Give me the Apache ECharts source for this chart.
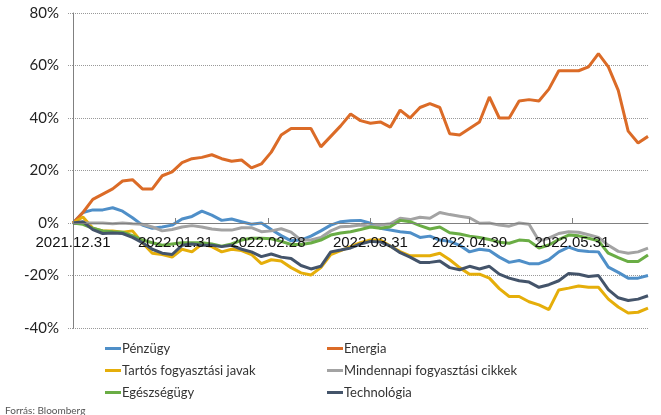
<!DOCTYPE html>
<html>
<head>
<meta charset="utf-8">
<script src="https://cdn.jsdelivr.net/npm/echarts@6/dist/echarts.min.js"></script>
<style>
  html, body { margin: 0; padding: 0; background: #fff; }
  #chart { width: 661px; height: 415px; }
</style>
</head>
<body>
<div id="chart"></div>
<script>
// dátumok (3 naponta leolvasva)
const dates = [
  '2021-12-31', '2022-01-03', '2022-01-06', '2022-01-09', '2022-01-12', '2022-01-15', '2022-01-18',
  '2022-01-21', '2022-01-24', '2022-01-27', '2022-01-30', '2022-02-02', '2022-02-05', '2022-02-08',
  '2022-02-11', '2022-02-14', '2022-02-17', '2022-02-20', '2022-02-23', '2022-02-26', '2022-03-01',
  '2022-03-04', '2022-03-07', '2022-03-10', '2022-03-13', '2022-03-16', '2022-03-19', '2022-03-22',
  '2022-03-25', '2022-03-28', '2022-03-31', '2022-04-03', '2022-04-06', '2022-04-09', '2022-04-12',
  '2022-04-15', '2022-04-18', '2022-04-21', '2022-04-24', '2022-04-27', '2022-04-30', '2022-05-03',
  '2022-05-06', '2022-05-09', '2022-05-12', '2022-05-15', '2022-05-18', '2022-05-21', '2022-05-24',
  '2022-05-27', '2022-05-30', '2022-06-02', '2022-06-05', '2022-06-08', '2022-06-11', '2022-06-14',
  '2022-06-17', '2022-06-20', '2022-06-23'
]

const penzugy = [
  0, 4, 5, 5, 5.8, 4.5, 2, -0.8, -2, -1.5, -0.8, 1.5, 2.5, 4.5, 3, 1, 1.5, 0.5, -0.5, 0,
  -2.5, -4.8, -6.8, -6.5, -5, -3, -0.8, 0.5, 0.9, 1, -0.1, -2, -2.7, -3.3, -3.7, -5.5, -5, -6.5, -7, -8.5,
  -11, -10, -10.5, -13, -15, -14.3, -15.5, -15.5, -14, -11, -9.2, -10.5, -10.9, -11, -16.8, -18.8, -21, -21, -20
]
const energia = [
  0, 4, 9, 11, 13, 16, 16.5, 13, 13, 18, 19.5, 23, 24.5, 25, 26, 24.5, 23.5, 24, 21, 22.5,
  27, 33.5, 36, 36, 36, 29, 33, 37, 41.5, 39, 38, 38.5, 36.5, 43, 40, 44, 45.5, 44, 34, 33.5,
  36, 38.5, 48, 40, 40, 46.5, 47, 46.5, 51, 58, 58, 58, 59.5, 64.5, 59.5, 50.5, 35, 30.5, 33
]
const tartos = [
  0, 2.3, -2, -3, -3, -3.5, -3, -7.5, -11.5, -12, -13, -10, -11, -8, -9, -11, -10, -10.5, -12, -15.5,
  -14, -14.5, -17, -19, -19.8, -17, -12, -10.5, -9, -7.5, -6.5, -6.5, -8.8, -10.9, -12.5, -12.5, -12.5, -11.5, -14, -17,
  -19.5, -19.5, -21, -25, -28, -28, -30, -31.2, -33, -25.5, -24.8, -24, -24.5, -24.5, -29, -32, -34.3, -34, -32.4
]
const mindennapi = [
  0, 0, 0, 0, -0.3, 0, -0.3, -0.5, -1.5, -3, -2.5, -1.5, -1, -1.5, -2.3, -2.7, -2.7, -1.8, -1.8, -3.3,
  -3, -2.2, -3.5, -6.5, -6.5, -5.5, -3, -1.4, -1.2, -0.8, -1.2, -0.8, -0.3, 1.8, 1.3, 2.2, 1.8, 4, 3.2, 2.6,
  2, -0.1, 0, -0.8, -1.2, 0, -0.5, -6.8, -5.8, -4, -3.3, -3.5, -4.5, -5.5, -8.5, -10.8, -11.5, -11, -9.6
]
const egeszseg = [
  0, -0.5, -2, -3, -3.3, -3.5, -4.8, -6.5, -7.5, -8.5, -8, -7.5, -7.5, -7.5, -8, -8.8, -8, -6.5, -5.8, -5.8,
  -6, -7, -8.2, -8.2, -7.6, -6.5, -4.6, -3.8, -3.3, -2.5, -1.5, -2, -1.4, 1, 0.5, -1, -2.3, -1.5, -3.7, -4.2,
  -5, -5.5, -6.3, -7.3, -7.7, -6.5, -6.8, -9.5, -8.4, -6.3, -4.6, -4.9, -5.8, -6.8, -11.5, -13.2, -14.7, -14.7, -12.2
]
const technologia = [
  0, 0.5, -2.5, -4, -3.8, -4, -5.5, -7.5, -10, -11.5, -12, -8.5, -8, -8.5, -8.5, -9, -8.5, -10, -11, -12.8,
  -11.8, -13, -13.5, -16.2, -17.5, -16.5, -11, -10.3, -9.5, -8, -7, -7.2, -8.8, -11.3, -13, -15, -15, -14.5, -17, -17.8,
  -16.5, -17.5, -16.5, -19.5, -21, -22, -22.5, -24.5, -23.5, -22, -19.2, -19.5, -20.4, -20, -25.4, -28.5, -29.5, -29, -27.7
]

// tengelyfeliratok
const tickDates = ['2021-12-31', '2022-01-31', '2022-02-28', '2022-03-31', '2022-04-30', '2022-05-31']
const tickLabels = ['2021.12.31', '2022.01.31', '2022.02.28', '2022.03.31', '2022.04.30', '2022.05.31']

const yMin = -40
const yMax = 80

// napok száma 2021.12.31 óta
function dayIndex(s) {
  const p = s.split('-')
  return Math.round((Date.UTC(+p[0], +p[1] - 1, +p[2]) - Date.UTC(2021, 11, 31)) / 86400000)
}
const tickDays = tickDates.map(dayIndex)

const names = ['Pénzügy', 'Energia', 'Tartós fogyasztási javak', 'Mindennapi fogyasztási cikkek', 'Egészségügy', 'Technológia']
const colors = ['#4f8fc8', '#db6b27', '#e5ae0a', '#a3a3a3', '#6aad45', '#44546a']
const values = [penzugy, energia, tartos, mindennapi, egeszseg, technologia]

const seriesList = names.map(function (n, i) {
  return {
    name: n,
    type: 'line',
    showSymbol: false,
    symbol: 'none',
    lineStyle: { width: 3, color: colors[i] },
    itemStyle: { color: colors[i] },
    data: dates.map(function (d, j) { return [dayIndex(d), values[i][j]] })
  }
})

const legendText = { fontFamily: 'Lato', fontSize: 13, color: '#333', padding: [0, 0, 0, -4] }

const gridTop = 13
const gridBottom = 87
const gridH = 415 - gridTop - gridBottom
// x tengely a 0%-os szintre
const xOffset = -gridH * (0 - yMin) / (yMax - yMin)

var myChart = echarts.init(document.getElementById('chart'))
myChart.setOption({
  animation: false,
  title: {
    text: 'Forrás: Bloomberg',
    left: 0,
    top: 401,
    textStyle: { fontFamily: 'Lato', fontSize: 10, fontWeight: 'normal', color: '#555' }
  },
  grid: { left: 73, right: 13, top: gridTop, bottom: gridBottom, containLabel: false },
  legend: [
    {
      data: [names[0], names[2], names[4]],
      orient: 'vertical', left: 100, top: 337, itemGap: 9,
      icon: 'rect', itemWidth: 16, itemHeight: 3,
      textStyle: legendText
    },
    {
      data: [names[1], names[3], names[5]],
      orient: 'vertical', left: 322, top: 337, itemGap: 9,
      icon: 'rect', itemWidth: 16, itemHeight: 3,
      textStyle: legendText
    }
  ],
  xAxis: {
    type: 'value',
    min: 0,
    max: dayIndex(dates[dates.length - 1]),
    offset: xOffset,
    z: 5,
    axisLine: { onZero: false, lineStyle: { color: '#808080', width: 1 } },
    axisTick: { show: true, inside: true, length: 5, customValues: tickDays, lineStyle: { color: '#808080' } },
    axisLabel: {
      customValues: tickDays,
      hideOverlap: false,
      margin: 12,
      fontFamily: 'Liberation Sans',
      fontSize: 15,
      color: '#111',
      formatter: function (v) {
        const i = tickDays.indexOf(v)
        return i >= 0 ? tickLabels[i] : ''
      }
    },
    splitLine: { show: false }
  },
  yAxis: {
    type: 'value',
    min: yMin,
    max: yMax,
    interval: 20,
    axisLine: { show: true, onZero: false, lineStyle: { color: '#808080', width: 1 } },
    axisTick: { show: true, length: 6, lineStyle: { color: '#999', type: 'dotted' } },
    axisLabel: { formatter: '{value}%', margin: 14, fontFamily: 'Lato', fontSize: 15, color: '#222' },
    splitLine: { show: true, lineStyle: { color: '#999', type: 'dotted', width: 1 } }
  },
  series: seriesList
})
</script>
</body>
</html>
